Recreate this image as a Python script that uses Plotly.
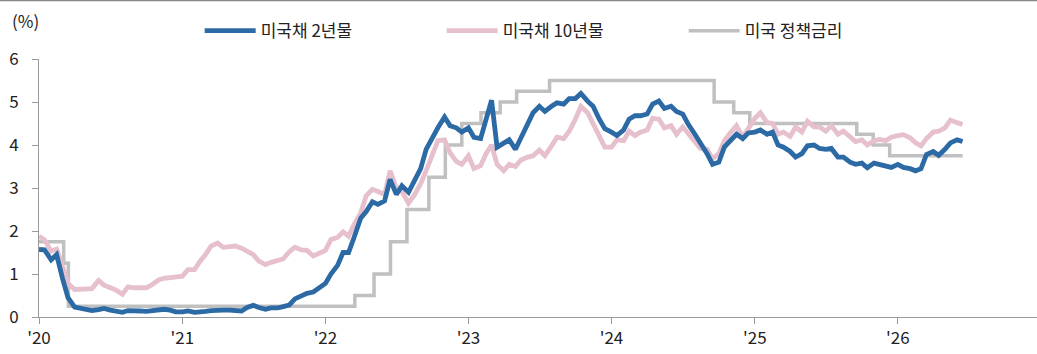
import pandas as pd
import plotly.graph_objects as go

# ---- data (semi-monthly observations: 1st and 15th of each month, from 2020-01-01) ----
us2y = [
    # 2020
    1.57, 1.56, 1.33, 1.45, 0.90, 0.45, 0.23, 0.20, 0.18, 0.15, 0.17, 0.20,
    0.16, 0.15, 0.11, 0.15, 0.13, 0.14, 0.13, 0.14, 0.15, 0.18, 0.16, 0.12,
    # 2021
    0.12, 0.14, 0.11, 0.11, 0.13, 0.15, 0.17, 0.16, 0.16, 0.15, 0.14, 0.22,
    0.27, 0.22, 0.18, 0.21, 0.21, 0.24, 0.28, 0.42, 0.50, 0.55, 0.58, 0.66,
    # 2022
    0.78, 1.00, 1.20, 1.50, 1.50, 1.85, 2.30, 2.45, 2.68, 2.62, 2.70, 3.20,
    2.85, 3.05, 2.90, 3.15, 3.45, 3.90, 4.20, 4.40, 4.65, 4.45, 4.40, 4.30,
    # 2023
    4.40, 4.18, 4.15, 4.62, 5.04, 3.95, 4.05, 4.12, 3.90, 4.15, 4.50, 4.75,
    4.90, 4.78, 4.90, 4.98, 4.95, 5.08, 5.08, 5.20, 5.02, 4.90, 4.60, 4.38,
    # 2024
    4.30, 4.22, 4.35, 4.60, 4.68, 4.68, 4.72, 4.95, 5.02, 4.85, 4.90, 4.78,
    4.72, 4.48, 4.25, 4.05, 3.80, 3.55, 3.60, 3.95, 4.10, 4.25, 4.15, 4.28,
    # 2025
    4.30, 4.35, 4.25, 4.30, 4.00, 3.95, 3.85, 3.72, 3.80, 3.98, 4.00, 3.92,
    3.90, 3.92, 3.72, 3.72, 3.60, 3.55, 3.58, 3.47, 3.58, 3.55, 3.52, 3.48,
    # 2026
    3.55, 3.48, 3.45, 3.40, 3.45, 3.78, 3.85, 3.76, 3.90, 4.05, 4.12, 4.08,
]

us10y = [
    # 2020
    1.88, 1.80, 1.53, 1.58, 1.18, 0.78, 0.64, 0.65, 0.64, 0.66, 0.85, 0.74,
    0.68, 0.63, 0.53, 0.70, 0.68, 0.68, 0.68, 0.75, 0.86, 0.90, 0.92, 0.93,
    # 2021
    0.95, 1.10, 1.10, 1.30, 1.45, 1.65, 1.72, 1.62, 1.64, 1.65, 1.60, 1.52,
    1.45, 1.30, 1.22, 1.27, 1.30, 1.35, 1.52, 1.62, 1.56, 1.55, 1.42, 1.47,
    # 2022
    1.55, 1.80, 1.85, 1.98, 1.88, 2.15, 2.42, 2.82, 2.97, 2.92, 2.85, 3.40,
    3.00, 2.92, 2.65, 2.82, 3.10, 3.40, 3.80, 4.10, 4.12, 3.82, 3.62, 3.55,
    # 2023
    3.75, 3.45, 3.52, 3.80, 4.00, 3.55, 3.40, 3.55, 3.50, 3.65, 3.72, 3.75,
    3.88, 3.75, 3.98, 4.18, 4.15, 4.32, 4.60, 4.90, 4.75, 4.50, 4.25, 3.95,
    # 2024
    3.95, 4.12, 4.10, 4.32, 4.22, 4.30, 4.35, 4.62, 4.60, 4.40, 4.45, 4.25,
    4.42, 4.25, 4.08, 3.92, 3.90, 3.68, 3.80, 4.10, 4.30, 4.45, 4.18, 4.38,
    # 2025
    4.62, 4.75, 4.52, 4.50, 4.25, 4.30, 4.20, 4.42, 4.30, 4.55, 4.42, 4.42,
    4.32, 4.45, 4.25, 4.32, 4.20, 4.08, 4.12, 4.00, 4.10, 4.13, 4.10, 4.18,
    # 2026
    4.22, 4.24, 4.17, 4.05, 3.98, 4.15, 4.30, 4.32, 4.40, 4.58, 4.52, 4.48,
]

policy_dates = ["2020-01-01", "2020-03-04", "2020-03-16", "2022-03-17", "2022-05-05",
                "2022-06-16", "2022-07-28", "2022-09-22", "2022-11-03", "2022-12-15",
                "2023-02-02", "2023-03-23", "2023-05-04", "2023-07-27", "2024-09-19",
                "2024-11-08", "2024-12-19", "2025-09-18", "2025-10-30", "2025-12-11",
                "2026-06-15"]
policy_rate = [1.75, 1.25, 0.25, 0.50, 1.00, 1.75, 2.50, 3.25, 4.00, 4.50,
               4.75, 5.00, 5.25, 5.50, 5.00, 4.75, 4.50, 4.25, 4.00, 3.75, 3.75]

series_names = ["미국채 2년물", "미국채 10년물", "미국 정책금리"]
year_ticks = ["2020-01-01", "2021-01-01", "2022-01-01", "2023-01-01",
              "2024-01-01", "2025-01-01", "2026-01-01"]
year_labels = ["'20", "'21", "'22", "'23", "'24", "'25", "'26"]

dates = pd.date_range("2020-01-01", periods=len(us2y), freq="SMS")

FONT = "Noto Sans CJK KR, Noto Sans, sans-serif"

fig = go.Figure()
fig.add_trace(go.Scatter(x=policy_dates, y=policy_rate, mode="lines", name=series_names[2],
                         line=dict(color="#c0c0c0", width=3.5, shape="hv"), legendrank=3))
fig.add_trace(go.Scatter(x=dates, y=us10y, mode="lines", name=series_names[1],
                         line=dict(color="#e6c0cc", width=4.8), legendrank=2))
fig.add_trace(go.Scatter(x=dates, y=us2y, mode="lines", name=series_names[0],
                         line=dict(color="#2c6aa6", width=4.8), legendrank=1))

fig.update_layout(
    width=1037, height=354,
    margin=dict(l=39, r=0, t=59, b=37),
    paper_bgcolor="white", plot_bgcolor="white",
    font=dict(family=FONT, size=17, color="#222"),
    showlegend=True,
    legend=dict(orientation="h", x=0.161, xanchor="left", y=1.108, yanchor="middle",
                itemwidth=51, entrywidth=176, font=dict(size=17, family=FONT),
                bgcolor="rgba(0,0,0,0)", traceorder="normal"),
    xaxis=dict(type="date", range=["2020-01-01", "2026-12-22"],
               tickvals=year_ticks, ticktext=year_labels,
               ticks="outside", ticklen=6, tickcolor="#999", tickwidth=1,
               showline=True, linecolor="#999", linewidth=1,
               showgrid=False, zeroline=False,
               tickfont=dict(size=17, family=FONT, color="#222")),
    yaxis=dict(range=[0, 6], dtick=1, tick0=0,
               ticks="outside", ticklen=6, tickcolor="#999", tickwidth=1,
               showline=True, linecolor="#999", linewidth=1,
               showgrid=False, zeroline=False, ticklabelstandoff=10,
               tickfont=dict(size=17, family=FONT, color="#222")),
    annotations=[dict(text="(%)", xref="paper", yref="paper", x=-29/998, y=(317-21)/258,
                      xanchor="left", yanchor="middle", showarrow=False,
                      font=dict(size=17, family=FONT, color="#222"))],
    shapes=[dict(type="line", xref="paper", yref="paper", x0=-39/998, x1=1,
                 y0=(317-0.5)/258, y1=(317-0.5)/258, line=dict(color="#888", width=1.5))],
)

fig.write_html("out.html")
